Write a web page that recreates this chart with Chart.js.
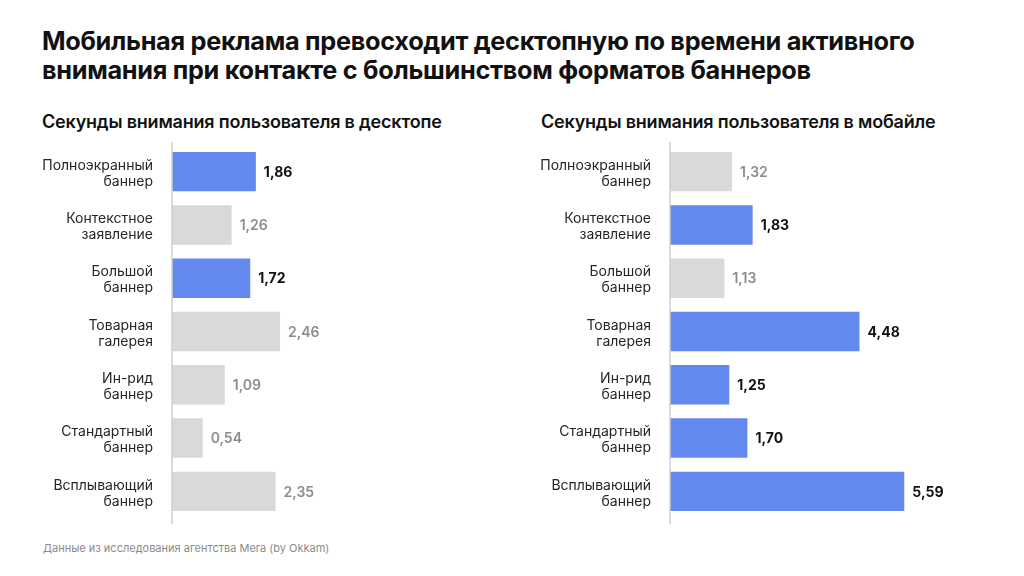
<!DOCTYPE html>
<html lang="ru">
<head>
<meta charset="utf-8">
<script src="https://cdn.jsdelivr.net/npm/chart.js@4.4.0/dist/chart.umd.min.js"></script>
<style>
  html, body { margin: 0; padding: 0; background: #fff; }
  body { width: 1024px; height: 576px; position: relative; overflow: hidden;
         font-family: 'Inter', 'Noto Sans', sans-serif; color: #111; }
  .title { position: absolute; left: 42px; top: 26px; font-size: 25.3px; font-weight: 700;
           line-height: 29px; letter-spacing: -0.3px; }
  .sub { position: absolute; top: 111px; font-size: 18px; font-weight: 600; letter-spacing: -0.2px; }
  .note { position: absolute; left: 43px; top: 541px; font-size: 11px; color: #8a8a8a; }
  .box { position: absolute; top: 140px; width: 470px; height: 390px; }
</style>
</head>
<body>
<div class="title">Мобильная реклама превосходит десктопную по времени активного<br>внимания при контакте с большинством форматов баннеров</div>
<div class="sub" style="left:42px">Секунды внимания пользователя в десктопе</div>
<div class="sub" style="left:541px">Секунды внимания пользователя в мобайле</div>
<div class="box" style="left:0px"><canvas id="desk"></canvas></div>
<div class="box" style="left:498px"><canvas id="mob"></canvas></div>
<div class="note">Данные из исследования агентства Mera (by Okkam)</div>
<script>
// Categories (two-line labels)
const formats = [
  ['Полноэкранный', 'баннер'],
  ['Контекстное', 'заявление'],
  ['Большой', 'баннер'],
  ['Товарная', 'галерея'],
  ['Ин-рид', 'баннер'],
  ['Стандартный', 'баннер'],
  ['Всплывающий', 'баннер'],
];

// Seconds of attention
const desktopSeconds = [1.86, 1.26, 1.72, 2.46, 1.09, 0.54, 2.35];
const mobileSeconds = [1.32, 1.83, 1.13, 4.48, 1.25, 1.70, 5.59];

// Which format wins on each platform
const desktopWins = desktopSeconds.map((v, i) => v > mobileSeconds[i]);
const mobileWins = mobileSeconds.map((v, i) => v > desktopSeconds[i]);

const BLUE = '#6389EF';
const GRAY = '#D9D9D9';
const AXIS_MIN = -0.22;

// Value labels at the end of each bar + axis line
const barLabels = {
  id: 'barLabels',
  afterDatasetsDraw(chart, args, opts) {
    const ctx = chart.ctx;
    const area = chart.chartArea;
    ctx.save();
    ctx.strokeStyle = '#CFCFCF';
    ctx.lineWidth = 1.5;
    ctx.beginPath();
    ctx.moveTo(area.left, area.top - 3);
    ctx.lineTo(area.left, area.bottom + 6);
    ctx.stroke();

    const meta = chart.getDatasetMeta(0);
    const data = chart.data.datasets[0].data;
    ctx.textBaseline = 'middle';
    ctx.textAlign = 'left';
    meta.data.forEach((bar, i) => {
      const hi = opts.highlight[i];
      ctx.font = (hi ? '700 ' : '600 ') + '14px Inter, sans-serif';
      ctx.fillStyle = hi ? '#111' : '#8C8C8C';
      ctx.fillText(data[i].toFixed(2).replace('.', ','), bar.x + 8, bar.y + 1);
    });
    ctx.restore();
  }
};

function makeChart(id, values, wins) {
  return new Chart(document.getElementById(id), {
    type: 'bar',
    data: {
      labels: formats,
      datasets: [{
        data: values,
        base: AXIS_MIN,
        backgroundColor: wins.map(w => w ? BLUE : GRAY),
        borderWidth: 0,
        categoryPercentage: 1,
        barPercentage: 0.74,
      }],
    },
    options: {
      indexAxis: 'y',
      responsive: true,
      maintainAspectRatio: false,
      animation: false,
      layout: { padding: { top: 5, bottom: 12, right: 46, left: 0 } },
      plugins: {
        legend: { display: false },
        tooltip: { enabled: false },
        barLabels: { highlight: wins },
      },
      scales: {
        x: { display: false, min: AXIS_MIN, max: 6.03 },
        y: {
          grid: { display: false, drawTicks: false },
          border: { display: false },
          afterFit(scale) {
            scale.width = 172;
            scale.paddingTop = 0;
            scale.paddingBottom = 0;
          },
          ticks: {
            color: '#262626',
            padding: 19,
            labelOffset: 2,
            font: { family: "'Inter', sans-serif", size: 14, lineHeight: 1.15 },
          },
        },
      },
    },
    plugins: [barLabels],
  });
}

makeChart('desk', desktopSeconds, desktopWins);
makeChart('mob', mobileSeconds, mobileWins);
</script>
</body>
</html>
